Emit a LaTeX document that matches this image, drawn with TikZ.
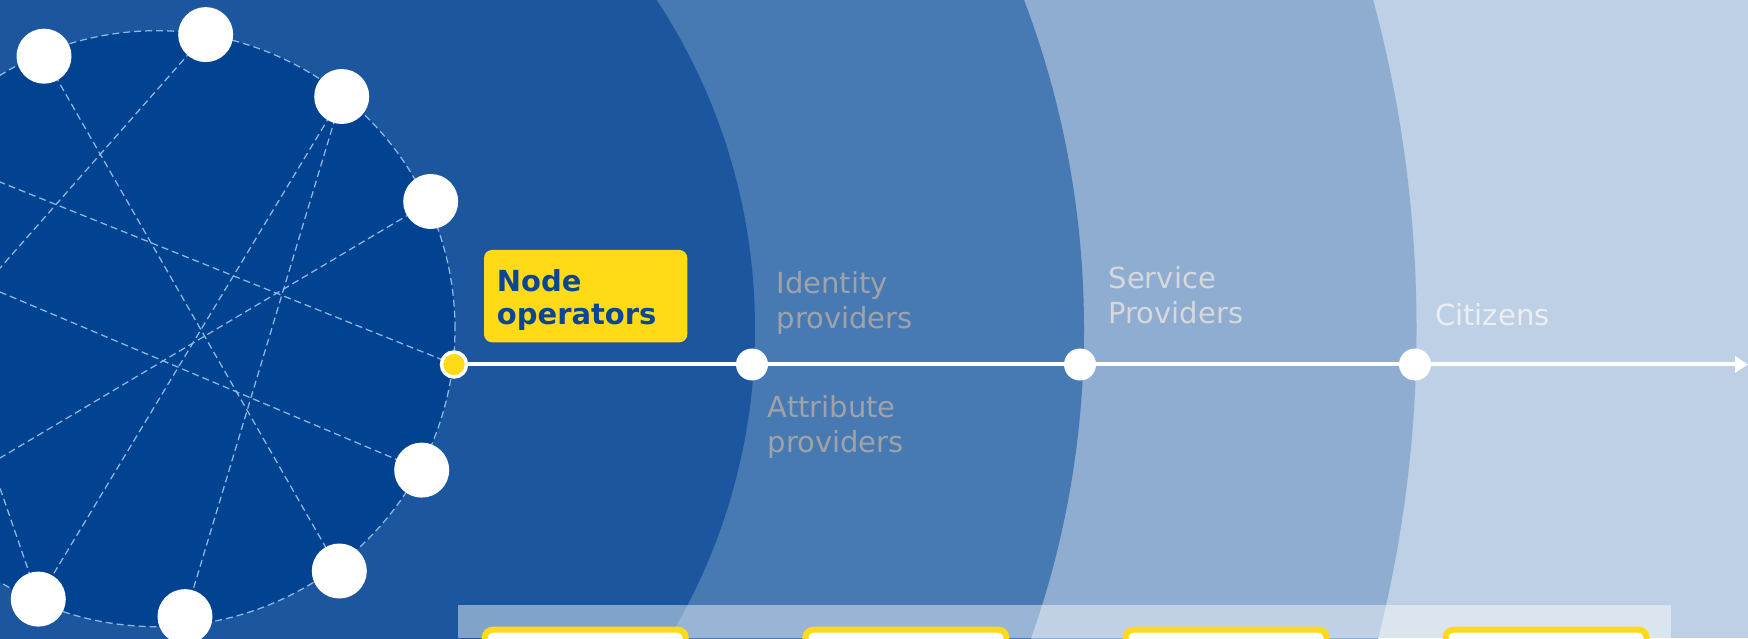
\documentclass[tikz,border=0pt]{standalone}
\usepackage{fontspec}
\setmainfont{DejaVu Sans}
\usetikzlibrary{arrows.meta}
\definecolor{bgA}{RGB}{27,86,158}
\definecolor{netfill}{RGB}{2,67,145}
\definecolor{bandB}{RGB}{71,122,179}
\definecolor{bandC}{RGB}{143,173,208}
\definecolor{bandD}{RGB}{190,208,229}
\definecolor{dashc}{RGB}{140,185,230}
\definecolor{euyellow}{RGB}{255,218,22}
\definecolor{navy}{RGB}{10,70,150}
\definecolor{idgray}{RGB}{160,162,168}
\definecolor{svcgray}{RGB}{214,216,220}
\definecolor{citw}{RGB}{236,238,242}
\pgfdeclarelayer{bg}
\pgfdeclarelayer{mid}
\pgfsetlayers{bg,mid,main}
\begin{document}
\begin{tikzpicture}[x=1pt,y=1pt,
  peer/.style={circle,fill=white,inner sep=0pt,minimum size=55pt},
  hub/.style={circle,fill=euyellow,draw=white,line width=3.5pt,inner sep=0pt,minimum size=25pt},
  stop/.style={circle,fill=white,inner sep=0pt,minimum size=32pt},
  link/.style={draw=dashc,line width=1.25pt,dash pattern=on 7pt off 4pt},
  lbl/.style={anchor=base west,inner sep=0pt,align=left,font=\fontsize{29}{35}\selectfont},
  slot/.style={draw=euyellow,fill=white,line width=6pt,rounded corners=8pt,inner sep=0pt,minimum width=201pt,minimum height=38pt},
  tagbox/.style={fill=euyellow,rounded corners=8pt}]
\useasboundingbox (0,0) rectangle (1748,638);
\coordinate (C) at (157,309.3);
% background bands
\begin{pgfonlayer}{bg}
\clip (0,0) rectangle (1748,638);
\fill[bandD] (0,0) rectangle (1748,638);
\fill[bandC] (C) circle (1259.5);
\fill[bandB] (C) circle (927);
\fill[bgA] (C) circle (598);
\fill[netfill] (C) circle (298);
\end{pgfonlayer}
% network nodes
\node[peer] (n1) at (44,581.8) {};
\node[peer] (n2) at (205.7,603.4) {};
\node[peer] (n3) at (341.7,541.5) {};
\node[peer] (n4) at (430.7,436.5) {};
\node[hub]  (hub) at (454,273.5) {};
\node[peer] (n5) at (421.7,167.9) {};
\node[peer] (n6) at (339.3,67) {};
\node[peer] (n7) at (185,21.4) {};
\node[peer] (n8) at (38.3,38.9) {};
\coordinate (o1) at (-81.2,488.6);
\coordinate (o2) at (-128.5,224.1);
\coordinate (o3) at (-127.1,399.7);
\coordinate (o4) at (-104.4,452.7);
\coordinate (o5) at (-81.8,131.3);
% stops on the line
\node[stop] (s1) at (752,273.5) {};
\node[stop] (s2) at (1080,273.5) {};
\node[stop] (s3) at (1415,273.5) {};
\coordinate (tip) at (1748,273.5);
\begin{pgfonlayer}{mid}
\clip (0,0) rectangle (1748,638);
\draw[link] (C) circle (298);
\draw[link] (n1.center) -- (n6.center);
\draw[link] (n2.center) -- (o2);
\draw[link] (hub.center) -- (o1);
\draw[link] (n5.center) -- (o3);
\draw[link] (n8.center) -- (o4);
\draw[link] (n4.center) -- (o5);
\draw[link] (n3.center) -- (n8.center);
\draw[link] (n3.center) -- (n7.center);
\draw[white,line width=4pt,-{Triangle[length=13pt,width=16pt]}] (hub.center) -- (tip);
\fill[white,opacity=0.45] (458.4,0) rectangle (1671,33);
\end{pgfonlayer}
% bottom slots
\begin{scope}
\clip (0,0) rectangle (1748,638);
\node[slot] (b1) at (585.2,-10.7) {};
\node[slot] (b2) at (905.9,-10.7) {};
\node[slot] (b3) at (1226,-10.7) {};
\node[slot] (b4) at (1546,-10.7) {};
\end{scope}
% labels (base anchor = baseline of the last line)
\fill[tagbox] (484,295.7) rectangle (687.3,388);
\node[lbl,text=navy,font=\fontsize{29}{33.3}\selectfont\bfseries] (tag) at (496.7,313) {Node\\operators};
\node[lbl,text=idgray] (idp) at (776.5,309) {Identity\\providers};
\node[lbl,text=idgray] (atp) at (767.5,185.3) {Attribute\\providers};
\node[lbl,text=svcgray] (svp) at (1108.5,314) {Service\\Providers};
\node[lbl,text=citw] (cit) at (1435,312.3) {Citizens};
\end{tikzpicture}
\end{document}
